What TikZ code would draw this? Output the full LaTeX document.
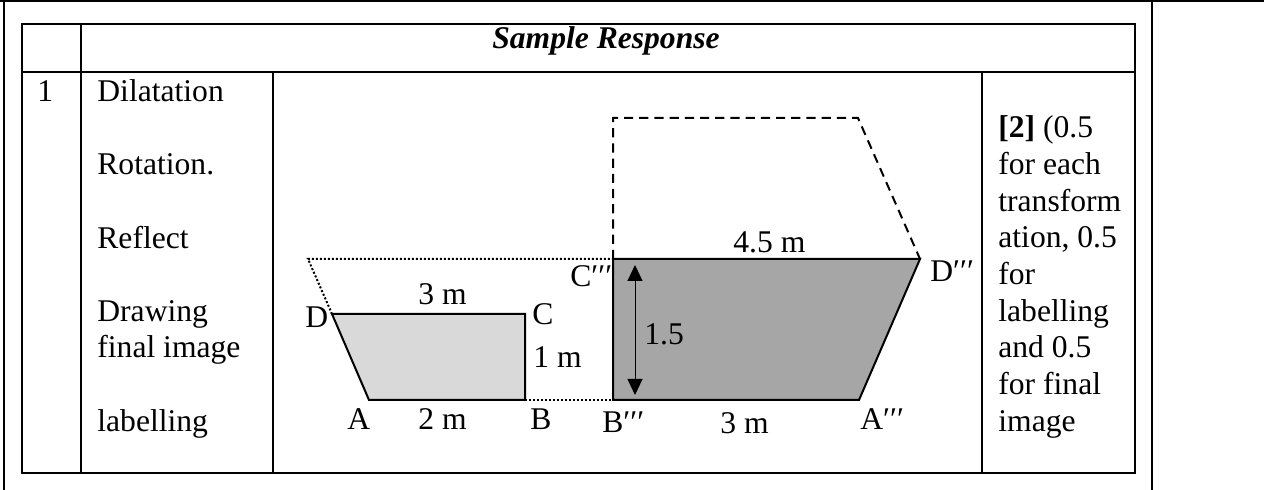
\documentclass[tikz,border=0pt]{standalone}
\usepackage{fontspec}
\setmainfont{Liberation Serif}
\usepackage{xcolor}
\usetikzlibrary{arrows.meta}
\definecolor{lightfill}{HTML}{D9D9D9}
\definecolor{darkfill}{HTML}{A6A6A6}

\begin{document}
\begin{tikzpicture}[
    x=0.5pt, y=-0.5pt,
    font=\fontsize{15.8pt}{18.35pt}\selectfont,
    rule/.style={draw=black, line width=1pt, line cap=rect},
    txt/.style={anchor=base west, inner sep=0pt},
    figure/.style={draw=black, line width=1pt, line join=miter},
    dotline/.style={line width=1pt, dash pattern=on 1pt off 1pt},
    dashline/.style={line width=1pt, dash pattern=on 4.6pt off 3pt},
    dimarrow/.style={{Triangle[length=8pt, width=7.5pt]}-{Triangle[length=8pt, width=7.5pt]}, line width=0.5pt}
]
    \useasboundingbox (0,0) rectangle (1264,490);

    % Page frame
    \draw[rule] (0,1) -- (1264,1);
    \draw[rule] (4,0) -- (4,490);
    \draw[rule] (1152,0) -- (1152,490);

    % Table grid
    \draw[rule] (22,24) rectangle (1135,473);
    \draw[rule] (22,72) -- (1135,72);
    \draw[rule] (81,24) -- (81,473);
    \draw[rule] (273,72) -- (273,473);
    \draw[rule] (982,72) -- (982,473);

    % Table text
    \node[anchor=base, inner sep=0pt] (head) at (606,49) {\textbf{\textit{Sample Response}}};
    \node[txt] (num) at (37,102) {1};
    \foreach \ty/\tx [count=\i] in {102/Dilatation, 175/Rotation., 249/Reflect, 322/Drawing, 358/final image, 432/labelling}
        \node[txt] (task\i) at (97,\ty) {\tx};
    \foreach \ty/\tx [count=\i] in {138/{\textbf{[2]} (0.5}, 175/for each, 212/transform, 248/{ation, 0.5}, 285/for, 322/labelling, 358/and 0.5, 395/for final, 432/image}
        \node[txt] (mark\i) at (998,\ty) {\tx};

    % Shape points
    \coordinate (A) at (369,400);
    \coordinate (B) at (525,400);
    \coordinate (C) at (525,314);
    \coordinate (D) at (332,314);
    \coordinate (A3) at (859,400);
    \coordinate (B3) at (613,400);
    \coordinate (C3) at (613,259);
    \coordinate (D3) at (920,259);
    \coordinate (Dd) at (308,259);
    \coordinate (Ct) at (613,118);
    \coordinate (Dt) at (858,118);
    \coordinate (top) at (635,265);
    \coordinate (bot) at (635,395);

    % Working lines
    \draw[dotline] (D) -- (Dd) -- (C3);
    \draw[dotline] (B) -- (B3);
    \draw[dashline] (C3) -- (Ct) -- (Dt) -- (D3);

    % Object and final image
    \filldraw[figure, fill=lightfill] (A) -- (B) -- (C) -- (D) -- cycle;
    \filldraw[figure, fill=darkfill] (B3) -- (C3) -- (D3) -- (A3) -- cycle;
    \draw[dimarrow] (top) -- (bot);

    % Labels
    \node[txt] (labD) at (305,328) {D};
    \node[txt] (labC) at (532,325) {C};
    \node[txt] (labA) at (347,430) {A};
    \node[txt] (labB) at (530,430) {B};
    \node[txt] (labDC) at (418,305) {3 m};
    \node[txt] (labAB) at (418,430) {2 m};
    \node[txt] (labBC) at (533,368) {1 m};
    \node[txt] (labC3) at (570,287) {C′′′};
    \node[txt] (labB3) at (602,433) {B′′′};
    \node[txt] (labA3) at (860,430) {A′′′};
    \node[txt] (labD3) at (930,282) {D′′′};
    \node[txt] (labCD3) at (733,253) {4.5 m};
    \node[txt] (labAB3) at (720,434) {3 m};
    \node[txt] (labH) at (644,345) {1.5};
\end{tikzpicture}
\end{document}
